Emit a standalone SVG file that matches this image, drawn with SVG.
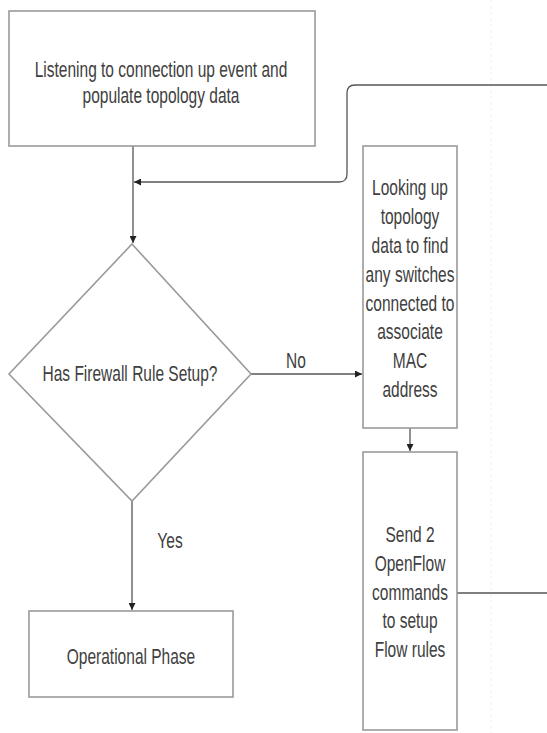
<svg xmlns="http://www.w3.org/2000/svg" width="547" height="733" viewBox="0 0 547 733">
  <defs>
    <marker id="arr" viewBox="0 0 10 10" refX="10" refY="5" markerWidth="8" markerHeight="7" markerUnits="userSpaceOnUse" orient="auto">
      <path d="M0,0 L10,5 L0,10 Z" fill="#222"/>
    </marker>
    <style>
      .box { fill: #ffffff; stroke: #9a9a9a; stroke-width: 1.6; }
      .edge { fill: none; stroke: #555555; stroke-width: 1.3; }
      .lbl { font-family: "Liberation Sans", Arial, sans-serif; font-size: 22.5px; fill: #404040; text-anchor: middle; }
      .guide { stroke: #f1f1f1; stroke-width: 1; stroke-dasharray: 3 3; }
    </style>
  </defs>
  <rect width="547" height="733" fill="#ffffff"/>
  <line class="guide" x1="491" y1="0" x2="491" y2="733"/>

  <g id="connectors">
    <path class="edge" d="M133,146 V243" marker-end="url(#arr)"/>
    <path class="edge" d="M457,593 H560 V85 H355 Q347,85 347,93 V174 Q347,182 339,182 H134" marker-end="url(#arr)"/>
    <path class="edge" d="M251,374 H362" marker-end="url(#arr)"/>
    <path class="edge" d="M410,428 V451" marker-end="url(#arr)"/>
    <path class="edge" d="M132,501 V610" marker-end="url(#arr)"/>
    <text class="lbl" transform="matrix(0.69 0 0 1 296 0)" x="0" y="368">No</text>
    <text class="lbl" transform="matrix(0.69 0 0 1 170 0)" x="0" y="548">Yes</text>
  </g>

  <g id="listen">
    <rect class="box" x="9" y="11" width="306" height="135"/>
    <text class="lbl" transform="matrix(0.69 0 0 1 161 0)" x="0" y="77">Listening to connection up event and</text>
    <text class="lbl" transform="matrix(0.69 0 0 1 161 0)" x="0" y="103">populate topology data</text>
  </g>

  <g id="decision">
    <path class="box" d="M132,244 L251,374 L132,501 L9,374 Z"/>
    <text class="lbl" transform="matrix(0.69 0 0 1 130 0)" x="0" y="381">Has Firewall Rule Setup?</text>
  </g>

  <g id="lookup">
    <rect class="box" x="363" y="146" width="94" height="282"/>
    <text class="lbl" transform="matrix(0.69 0 0 1 410 0)" x="0" y="195">Looking up</text>
    <text class="lbl" transform="matrix(0.69 0 0 1 410 0)" x="0" y="224">topology</text>
    <text class="lbl" transform="matrix(0.69 0 0 1 410 0)" x="0" y="253">data to find</text>
    <text class="lbl" transform="matrix(0.69 0 0 1 410 0)" x="0" y="282">any switches</text>
    <text class="lbl" transform="matrix(0.69 0 0 1 410 0)" x="0" y="311">connected to</text>
    <text class="lbl" transform="matrix(0.69 0 0 1 410 0)" x="0" y="339">associate</text>
    <text class="lbl" transform="matrix(0.69 0 0 1 410 0)" x="0" y="368">MAC</text>
    <text class="lbl" transform="matrix(0.69 0 0 1 410 0)" x="0" y="397">address</text>
  </g>

  <g id="send">
    <rect class="box" x="363" y="452" width="94" height="278"/>
    <text class="lbl" transform="matrix(0.69 0 0 1 410 0)" x="0" y="542">Send 2</text>
    <text class="lbl" transform="matrix(0.69 0 0 1 410 0)" x="0" y="571">OpenFlow</text>
    <text class="lbl" transform="matrix(0.69 0 0 1 410 0)" x="0" y="600">commands</text>
    <text class="lbl" transform="matrix(0.69 0 0 1 410 0)" x="0" y="628">to setup</text>
    <text class="lbl" transform="matrix(0.69 0 0 1 410 0)" x="0" y="657">Flow rules</text>
  </g>

  <g id="operational">
    <rect class="box" x="29" y="611" width="204" height="86"/>
    <text class="lbl" transform="matrix(0.69 0 0 1 131 0)" x="0" y="664">Operational Phase</text>
  </g>
</svg>
